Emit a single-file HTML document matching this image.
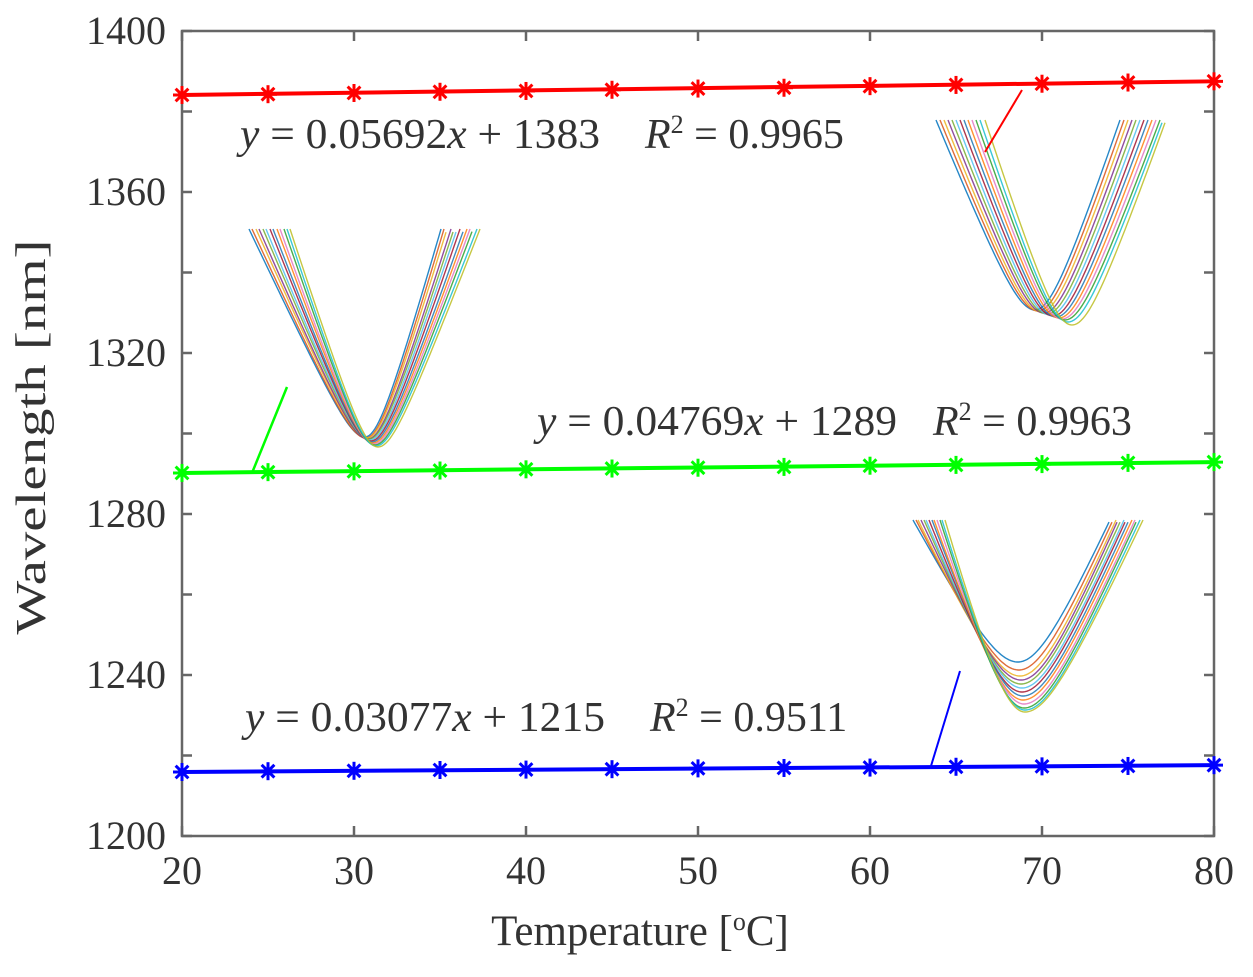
<!DOCTYPE html>
<html><head><meta charset="utf-8"><style>
html,body{margin:0;padding:0;background:#fff;}
svg text{font-family:"Liberation Serif",serif;fill:#333;}
</style></head><body>
<svg id="chart" width="1253" height="972" viewBox="0 0 1253 972" xmlns="http://www.w3.org/2000/svg">
<g id="insets"></g>
<g id="axes"></g>
<g id="series"></g>
<g id="labels">
<text x="240" y="148" font-size="42" textLength="360" lengthAdjust="spacingAndGlyphs"><tspan font-style="italic">y</tspan> = 0.05692<tspan font-style="italic">x</tspan> + 1383</text>
<text x="645" y="148" font-size="42"><tspan font-style="italic">R</tspan><tspan font-size="26" dy="-15">2</tspan><tspan dy="15"> = 0.9965</tspan></text>
<text x="537" y="435" font-size="42" textLength="360" lengthAdjust="spacingAndGlyphs"><tspan font-style="italic">y</tspan> = 0.04769<tspan font-style="italic">x</tspan> + 1289</text>
<text x="933" y="435" font-size="42"><tspan font-style="italic">R</tspan><tspan font-size="26" dy="-15">2</tspan><tspan dy="15"> = 0.9963</tspan></text>
<text x="245" y="731" font-size="42" textLength="360" lengthAdjust="spacingAndGlyphs"><tspan font-style="italic">y</tspan> = 0.03077<tspan font-style="italic">x</tspan> + 1215</text>
<text x="650" y="731" font-size="42"><tspan font-style="italic">R</tspan><tspan font-size="26" dy="-15">2</tspan><tspan dy="15"> = 0.9511</tspan></text>
<text x="640" y="945" font-size="43" text-anchor="middle">Temperature [<tspan font-size="26" dy="-15">o</tspan><tspan dy="15">C]</tspan></text>
<text transform="translate(45,437) rotate(-90)" font-size="42" text-anchor="middle" textLength="395" lengthAdjust="spacingAndGlyphs">Wavelength [nm]</text>
<line x1="1022" y1="90" x2="985" y2="152" stroke="#f00" stroke-width="2"/>
<line x1="287" y1="387" x2="252" y2="473" stroke="#0f0" stroke-width="2.5"/>
<line x1="960" y1="671" x2="931" y2="766" stroke="#00f" stroke-width="2"/>
</g>
</svg>
<script>
const temps=[20,25,30,35,40,45,50,55,60,65,70,75,80];
const redVals=[1384.1,1384.3,1384.6,1384.9,1385.1,1385.4,1385.7,1385.9,1386.3,1386.6,1386.9,1387.2,1387.5];
const greenVals=[1290.2,1290.4,1290.6,1290.8,1291.1,1291.3,1291.5,1291.7,1292.0,1292.2,1292.4,1292.7,1292.9];
const blueVals=[1215.9,1216.1,1216.2,1216.4,1216.5,1216.6,1216.8,1216.9,1217.0,1217.2,1217.3,1217.4,1217.6];
const xTicks=[20,30,40,50,60,70,80];
const yTicks=[1200,1240,1280,1320,1360,1400];
const yMinor=[1220,1260,1300,1340,1380];
const NS="http://www.w3.org/2000/svg";
const L=182,R=1214,T=31,B=836;
function xs(v){return L+(v-20)/60*(R-L);}
function ys(v){return B-(v-1200)/200*(B-T);}
function mk(tag,attrs,parent){const e=document.createElementNS(NS,tag);for(const k in attrs)e.setAttribute(k,attrs[k]);parent.appendChild(e);return e;}
const axes=document.getElementById('axes');
const frame=mk('rect',{x:L,y:T,width:R-L,height:B-T,fill:'none',stroke:'#666','stroke-width':2.5},axes);


xTicks.forEach(t=>{
 const x=xs(t);
 const a=mk('line',{x1:x,y1:B,x2:x,y2:B-10,stroke:'#666','stroke-width':2.5},axes);
 
 
 const b=mk('line',{x1:x,y1:T,x2:x,y2:T+10,stroke:'#666','stroke-width':2.5},axes);
 
 
 const tx=mk('text',{x:x,y:884,'font-size':40,'text-anchor':'middle'},axes);tx.textContent=t;
 
 
});
yTicks.concat(yMinor).forEach(t=>{
 const y=ys(t);
 const a=mk('line',{x1:L,y1:y,x2:L+10,y2:y,stroke:'#666','stroke-width':2.5},axes);
 
 
 const b=mk('line',{x1:R,y1:y,x2:R-10,y2:y,stroke:'#666','stroke-width':2.5},axes);
 
 
});
yTicks.forEach(t=>{
 const tx=mk('text',{x:166,y:ys(t)+13,'font-size':40,'text-anchor':'end'},axes);tx.textContent=t;
 
 
});
const series=document.getElementById('series');
function star(g,x,y,c){
 for(let k=0;k<4;k++){const a=k*Math.PI/4,r=9;
  const l=mk('line',{x1:x-r*Math.cos(a),y1:y-r*Math.sin(a),x2:x+r*Math.cos(a),y2:y+r*Math.sin(a),stroke:c,'stroke-width':3},g);
  
  }
}
[[redVals,'#f00','red'],[greenVals,'#0f0','green'],[blueVals,'#00f','blue']].forEach(([vals,c,n])=>{
 const g=mk('g',{},series);
 
 
 const fit=mk('line',{x1:xs(temps[0]),y1:ys(vals[0]),x2:xs(temps[temps.length-1]),y2:ys(vals[vals.length-1]),stroke:c,'stroke-width':4},g);
 
 
 temps.forEach((t,i)=>star(g,xs(t),ys(vals[i]),c));
});
const in1Left=[936,940,944,948,952,956,960,964,968,972,976,980,985];
const in1MinX=[1035,1038,1041,1044,1047,1050,1053,1056,1059,1062,1065,1068,1072];
const in1MinY=[310,311,312,313,314,315,316,317,318,319,320,322,325];
const in1Right=[1120,1124,1128,1132,1136,1140,1144,1148,1152,1156,1160,1163,1166];
const in2Left=[249,252,256,259,263,266,270,273,277,280,284,287,290];
const in2MinX=[365,366,367,368,369,370,371,372,373,374,375,376,378];
const in2MinY=[437,438,438,439,439,440,441,442,443,444,445,446,447];
const in2Right=[441,444,447,451,454,457,460,464,467,470,473,477,480];
const in3Left=[913,916,918,921,924,926,929,932,934,937,940,942,945];
const in3MinX=[1018,1019,1020,1021,1021,1022,1022,1023,1023,1024,1024,1025,1025];
const in3MinY=[662,670,676,680,684,688,692,696,700,704,708,710,712];
const in3Right=[1110,1113,1116,1118,1121,1124,1126,1129,1132,1135,1137,1140,1143];
const cols=['#0072BD','#D95319','#EDB120','#7E2F8E','#77AC30','#4DBEEE','#A2142F','#1f77b4','#ff7f0e','#e377c2','#2ca02c','#17becf','#bcbd22'];
const ins=document.getElementById('insets');
function half(cx,cy,top,edge,b){
 const h=Math.abs(edge-cx);const a=(cy-top)/(Math.sqrt(h*h+b*b)-b);
 return x=>cy-a*(Math.sqrt((x-cx)*(x-cx)+b*b)-b);
}
function inset(name,top,lefts,mxs,mys,rights,b){
 const g=mk('g',{},ins);
 
 
 lefts.forEach((lx,i)=>{
  const cx=mxs[i],cy=mys[i];
  const fl=half(cx,cy,top,lx,b),fr=half(cx,cy,top,rights[i],b);
  let p='';
  for(let x=lx;x<=rights[i];x+=2){const y=x<cx?fl(x):fr(x);p+=(p?'L':'M')+x.toFixed(1)+' '+y.toFixed(1);}
  const pa=mk('path',{d:p,fill:'none',stroke:cols[i%cols.length],'stroke-width':1.4,opacity:0.85},g);
  
  
 });
}
inset('inset-red',120,in1Left,in1MinX,in1MinY,in1Right,25);
inset('inset-green',229,in2Left,in2MinX,in2MinY,in2Right,20);
inset('inset-blue',520,in3Left,in3MinX,in3MinY,in3Right,35);
</script>
</body></html>
